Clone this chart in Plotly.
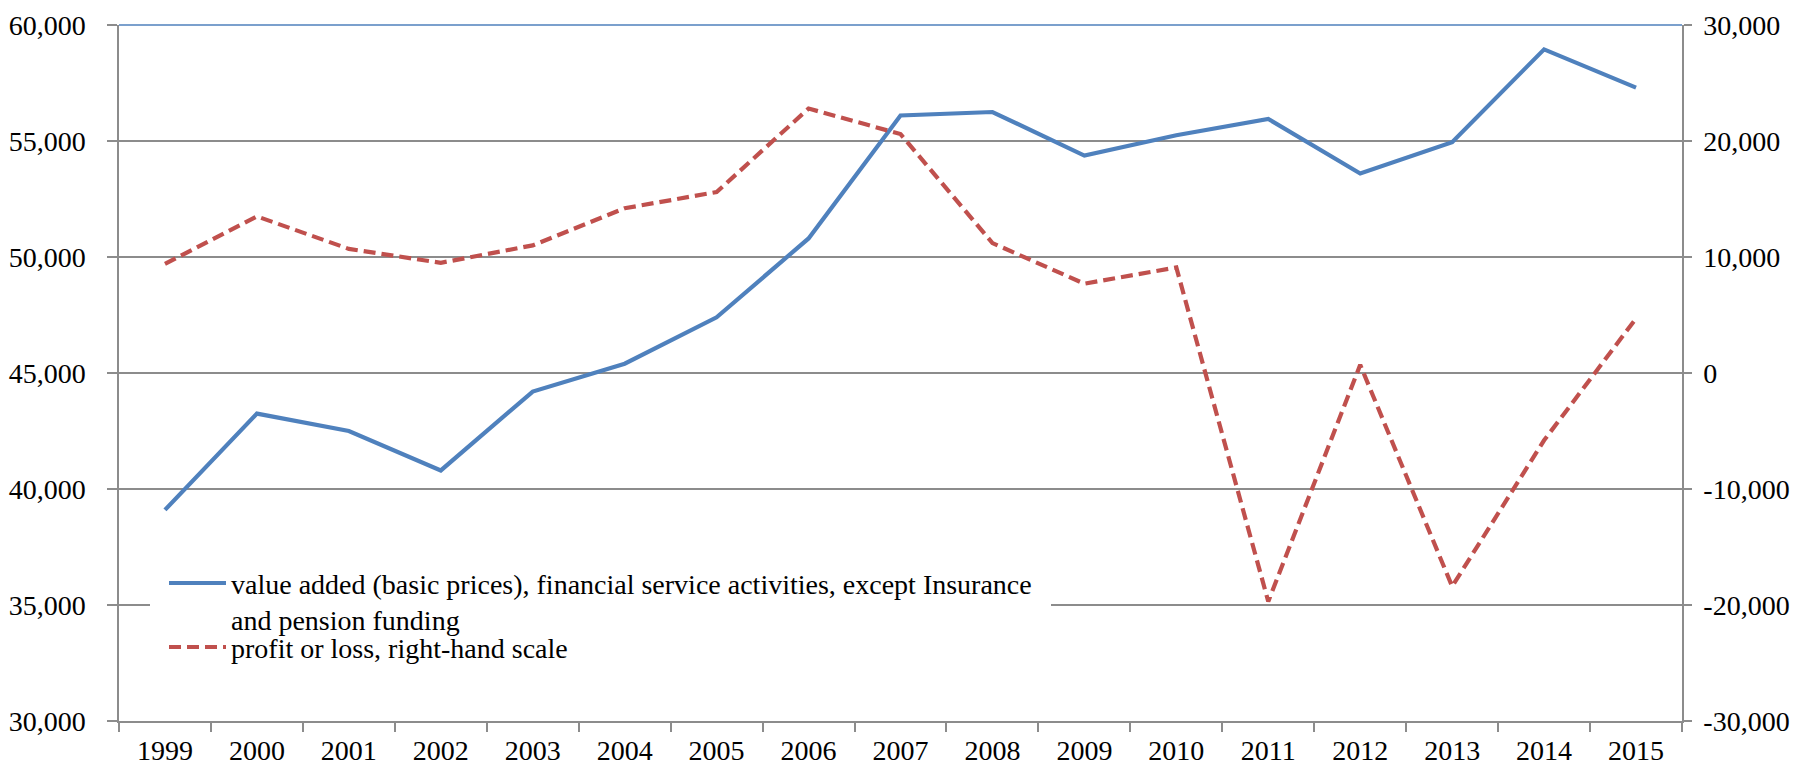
import plotly.graph_objects as go

years = ["1999", "2000", "2001", "2002", "2003", "2004", "2005", "2006", "2007",
         "2008", "2009", "2010", "2011", "2012", "2013", "2014", "2015"]
value_added = [39100, 43250, 42500, 40800, 44200, 45400, 47400, 50800, 56100,
               56250, 54370, 55250, 55950, 53600, 54950, 58950, 57300]
profit_loss = [9400, 13500, 10700, 9500, 11000, 14200, 15600, 22800, 20600,
               11200, 7700, 9100, -19700, 700, -18400, -5800, 4700]

left_ticks = [30000, 35000, 40000, 45000, 50000, 55000, 60000]
left_labels = ["30,000", "35,000", "40,000", "45,000", "50,000", "55,000", "60,000"]
right_ticks = [-30000, -20000, -10000, 0, 10000, 20000, 30000]
right_labels = ["-30,000", "-20,000", "-10,000", "0", "10,000", "20,000", "30,000"]

name_va = "value added (basic prices), financial service activities, except Insurance<br>and pension funding"
name_pl = "profit or loss, right-hand scale"

BLUE = "#4F81BD"
RED = "#C0504D"
GRID = "#8C8C8C"
FONT = "'Liberation Serif', 'Times New Roman', Times, serif"

fig = go.Figure()
fig.add_trace(go.Scatter(x=years, y=value_added, name=name_va, mode="lines",
                         line=dict(color=BLUE, width=4.2), yaxis="y", legend="legend"))
fig.add_trace(go.Scatter(x=years, y=profit_loss, name=name_pl, mode="lines",
                         line=dict(color=RED, width=4.2, dash="12px,6px"), yaxis="y2",
                         legend="legend2"))

# page body has an 8px default margin, so the figure is 8px smaller than the window
fig.update_layout(
    width=1790, height=759,
    margin=dict(l=111, r=116, t=17, b=46),
    paper_bgcolor="white", plot_bgcolor="white",
    font=dict(family=FONT, size=28, color="black"),
    showlegend=True,
    legend=dict(
        x=(150 - 119) / 1563, xanchor="left",
        y=0.2539, yanchor="top",
        bgcolor="white", bordercolor="white", borderwidth=14,
        font=dict(family=FONT, size=28, color="black"),
        itemwidth=57, valign="top", tracegroupgap=0,
    ),
    legend2=dict(
        x=(164 - 119) / 1563, xanchor="left",
        y=0.1418, yanchor="top",
        bgcolor="rgba(0,0,0,0)", borderwidth=0,
        font=dict(family=FONT, size=28, color="black"),
        itemwidth=57, valign="top", tracegroupgap=0,
    ),
    xaxis=dict(
        type="category", range=[-0.5, 16.5], tickson="boundaries", ticks="outside", ticklen=9,
        tickcolor=GRID, tickwidth=1.5, showline=True, linecolor=GRID, linewidth=1.5,
        showgrid=False, tickfont=dict(family=FONT, size=28), ticklabelstandoff=4,
        automargin=False,
    ),
    yaxis=dict(
        range=[30000, 60000], tickvals=left_ticks, ticktext=left_labels,
        ticks="outside", ticklen=10, tickcolor=GRID, tickwidth=1.5,
        showline=True, linecolor=GRID, linewidth=1.5,
        showgrid=True, gridcolor=GRID, gridwidth=1.5, zeroline=False,
        tickfont=dict(family=FONT, size=28), ticklabelstandoff=16, automargin=False,
    ),
    yaxis2=dict(
        range=[-30000, 30000], tickvals=right_ticks, ticktext=right_labels,
        overlaying="y", side="right",
        ticks="outside", ticklen=8, tickcolor=GRID, tickwidth=1.5,
        showline=True, linecolor=GRID, linewidth=1.5,
        showgrid=False, zeroline=False,
        tickfont=dict(family=FONT, size=28), ticklabelstandoff=6, automargin=False,
    ),
    shapes=[dict(type="line", xref="paper", yref="paper", x0=0, x1=1, y0=1, y1=1,
                 line=dict(color=BLUE, width=1.5), layer="above")],
)

fig.write_html("out.html")
